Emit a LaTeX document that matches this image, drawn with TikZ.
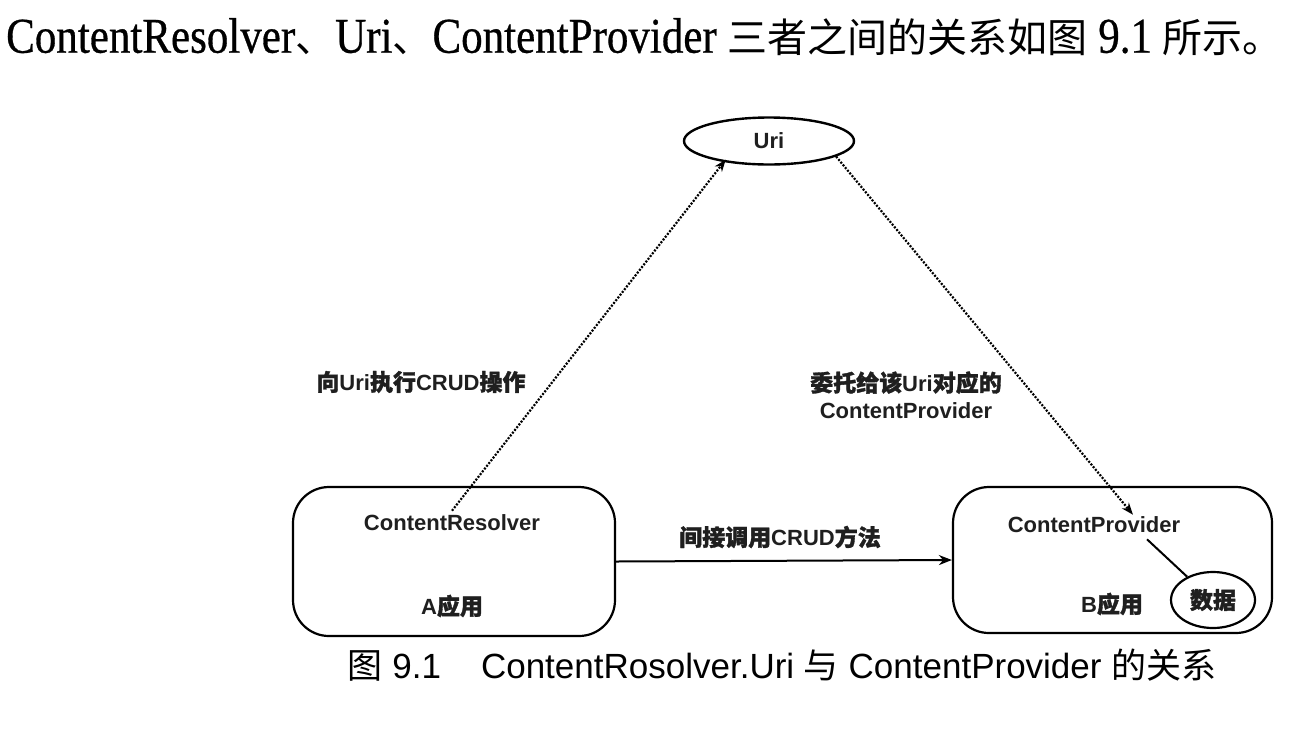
\documentclass[tikz,border=0pt]{standalone}
\usepackage{fontspec}
\setmainfont{Liberation Serif}
\newfontfamily\tms{Liberation Serif}[FakeStretch=0.86,FakeBold=0.6]
\newfontfamily\lsans{Liberation Sans}
\newfontfamily\cjk{Noto Sans CJK SC}
\newfontfamily\cjkb{Noto Sans CJK SC}[FakeBold=1.4]
\usetikzlibrary{shapes.geometric,arrows.meta,calc}
\newcommand{\zh}[1]{{\cjkb\fontsize{23}{28}\selectfont #1}}
\newcommand{\zr}[1]{{\cjk #1}}
\newcommand{\zt}[1]{{\cjk\fontsize{40}{44}\selectfont #1}}
\tikzset{
  lbl/.style={font=\lsans\bfseries\fontsize{22}{27}\selectfont, text=black!88, inner sep=0pt, align=center},
  appbox/.style={draw, line width=2.2pt, rounded corners=36pt, minimum width=322pt, minimum height=149pt},
  oval/.style={draw, ellipse, line width=2.4pt, inner sep=0pt},
  dotarrow/.style={line width=2.2pt, dash pattern=on 2pt off 1.5pt, -{Stealth[length=12pt,width=9pt]}},
  solidarrow/.style={line width=2pt, -{Stealth[length=13pt,width=10pt]}},
}
\begin{document}
\begin{tikzpicture}[x=1pt,y=-1pt]
\useasboundingbox (0,0) rectangle (1298,732);
% top line
\node[anchor=west, inner sep=0pt, font=\tms\fontsize{50}{60}\selectfont] (topline) at (6,37)
 {ContentResolver\zt{、}Uri\zt{、}ContentProvider \zt{三者之间的关系如图} 9.1 \zt{所示。}};
% ellipse Uri
\node[oval, minimum width=170pt, minimum height=47pt, lbl] (uri) at (769,141) {Uri};
% boxes
\node[appbox] (boxA) at (454,561.5) {};
\node[appbox, minimum width=319pt, minimum height=146pt] (boxB) at (1112.5,560) {};
% texts inside
\node[lbl] (cr) at (452,523) {ContentResolver};
\node[lbl] (aapp) at (452,606) {A\zh{应用}};
\node[lbl] (cp) at (1094,525) {ContentProvider};
\node[lbl] (bapp) at (1112,604) {B\zh{应用}};
\node[oval, minimum width=84pt, minimum height=56pt, line width=2.2pt, lbl] (data) at (1213,600) {\zh{数据}};
% labels
\node[lbl] (l1) at (421,382) {\zh{向}Uri\zh{执行}CRUD\zh{操作}};
\node[lbl] (l2) at (906,395) {\zh{委托给该}Uri\zh{对应的}\\ContentProvider};
\node[lbl] (l3) at (780,537) {\zh{间接调用}CRUD\zh{方法}};
% connectors
\draw[dotarrow, shorten >=-3pt] ($(cr.north)+(0,-4)$) -- (uri.205);
\draw[dotarrow] (uri.-13) -- ($(cp.north)+(39,-2)$);
\draw[solidarrow] (boxA.east) -- (boxB.west);
\draw[line width=2pt] ($(cp.south)+(53,6)$) -- (data.138);
% caption
\node[inner sep=0pt, font=\lsans\fontsize{35}{40}\selectfont] (cap) at (782,665)
 {\zr{图} 9.1\hspace{40pt}ContentRosolver.Uri \zr{与} ContentProvider \zr{的关系}};
\end{tikzpicture}
\end{document}
